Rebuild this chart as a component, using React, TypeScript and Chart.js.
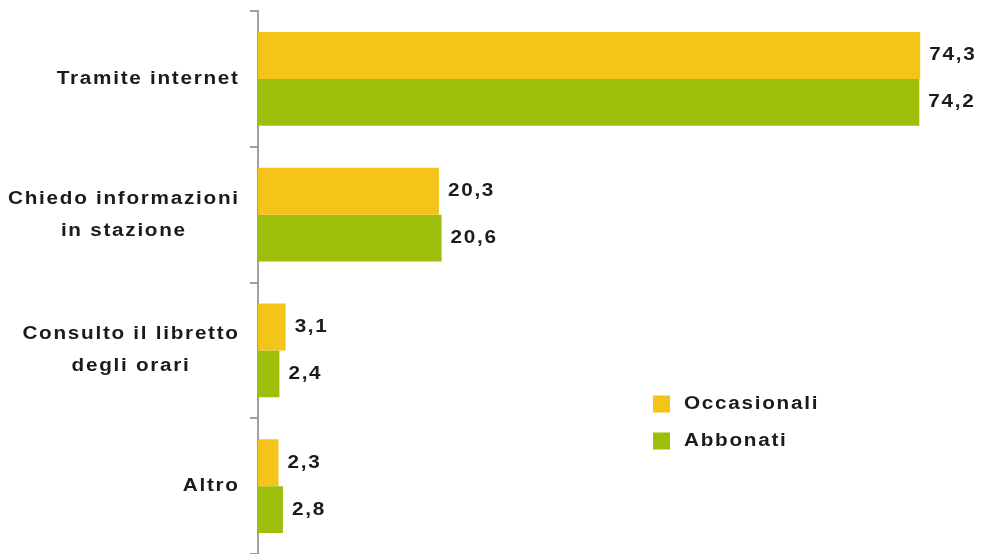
import React, { useEffect, useRef } from "react";
import { Chart, registerables } from "chart.js";

Chart.register(...registerables);

const categories: string[][] = [
  ["Tramite internet"],
  ["Chiedo informazioni", "in stazione"],
  ["Consulto il libretto", "degli orari"],
  ["Altro"],
];
const occasionali = [74.3, 20.3, 3.1, 2.3];
const abbonati = [74.2, 20.6, 2.4, 2.8];
const seriesNames = ["Occasionali", "Abbonati"];
const colors = ["#F5C418", "#9DBE0A"];

const FONT = '"Liberation Sans", Arial, sans-serif';
const LS = 1.5;
const SX = 1.15;

function textW(ctx: any, text: string) {
  ctx.letterSpacing = LS + "px";
  return (ctx.measureText(text).width - LS) * SX;
}

function drawSpaced(ctx: any, text: string, x: number, y: number, align: "left" | "right" | "center") {
  const w = textW(ctx, text);
  let sx = x;
  if (align === "right") sx = x - w;
  else if (align === "center") sx = x - w / 2;
  ctx.save();
  ctx.textAlign = "left";
  ctx.translate(sx, y);
  ctx.scale(SX, 1);
  ctx.fillText(text, 0, 0);
  ctx.restore();
  return w;
}

const labelPlugin = {
  id: "customLabels",
  afterDraw(chart: any) {
    const ctx = chart.ctx;
    const yScale = chart.scales.y;
    ctx.save();
    ctx.fillStyle = "#1b1b1b";
    ctx.textBaseline = "middle";
    // category labels
    ctx.font = "bold 18px " + FONT;
    categories.forEach((lines, i) => {
      const cy = yScale.getPixelForValue(i);
      const widths = lines.map((l) => textW(ctx, l));
      const maxW = Math.max(...widths);
      const right = 238;
      const lh = 32;
      const startY = cy - ((lines.length - 1) * lh) / 2;
      lines.forEach((l, j) => {
        drawSpaced(ctx, l, right - maxW / 2, startY + j * lh, "center");
      });
    });
    // value labels
    ctx.font = "bold 18px " + FONT;
    chart.data.datasets.forEach((ds: any, di: number) => {
      const meta = chart.getDatasetMeta(di);
      meta.data.forEach((bar: any, i: number) => {
        const v = ds.data[i];
        drawSpaced(ctx, v.toFixed(1).replace(".", ","), bar.x + 9, bar.y, "left");
      });
    });
    // legend
    ctx.font = "bold 18px " + FONT;
    const lx = 653;
    const ly = [404, 441];
    chart.data.datasets.forEach((ds: any, di: number) => {
      ctx.fillStyle = ds.backgroundColor;
      ctx.fillRect(lx, ly[di] - 8.5, 17, 17);
      ctx.fillStyle = "#1b1b1b";
      drawSpaced(ctx, ds.label, lx + 31, ly[di], "left");
    });
    ctx.restore();
  },
};

export default function App() {
  const ref = useRef<HTMLCanvasElement>(null);
  useEffect(() => {
    if (!ref.current) return;
    const chart = new Chart(ref.current, {
      type: "bar",
      data: {
        labels: categories.map((c) => c.join(" ")),
        datasets: [
          { label: seriesNames[0], data: occasionali, backgroundColor: colors[0], categoryPercentage: 0.69, barPercentage: 1.0 },
          { label: seriesNames[1], data: abbonati, backgroundColor: colors[1], categoryPercentage: 0.69, barPercentage: 1.0 },
        ],
      },
      options: {
        indexAxis: "y",
        responsive: false,
        animation: false,
        layout: { padding: { top: 11, right: 11, bottom: 0, left: 0 } },
        plugins: { legend: { display: false }, tooltip: { enabled: false } },
        scales: {
          x: { display: false, min: 0, max: 80 },
          y: {
            ticks: { display: false },
            grid: { drawOnChartArea: false, drawTicks: true, tickLength: 8, color: "#a0a0a0", lineWidth: 2, offset: true },
            border: { display: true, color: "#a0a0a0", width: 2 },
            afterFit: (scale: any) => {
              scale.width = 258;
            },
          },
        },
      },
      plugins: [labelPlugin],
    });
    return () => chart.destroy();
  }, []);
  return (
    <div style={{ position: "fixed", left: 0, top: 0, width: 982, height: 554, background: "#fff" }}>
      <canvas ref={ref} width={982} height={554} style={{ display: "block" }} />
    </div>
  );
}
